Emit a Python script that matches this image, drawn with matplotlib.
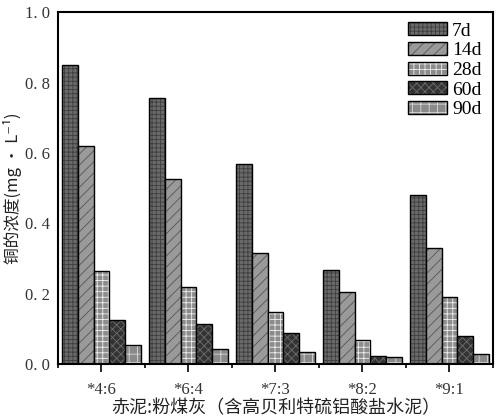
import matplotlib
matplotlib.use("Agg")
import matplotlib.pyplot as plt
import numpy as np

# ---- data
groups = ["*4:6", "*6:4", "*7:3", "*8:2", "*9:1"]
ages = ["7d", "14d", "28d", "60d", "90d"]
d7 = [0.849, 0.756, 0.569, 0.268, 0.480]
d14 = [0.619, 0.526, 0.317, 0.205, 0.330]
d28 = [0.265, 0.220, 0.147, 0.068, 0.190]
d60 = [0.125, 0.113, 0.088, 0.024, 0.080]
d90 = [0.053, 0.042, 0.035, 0.019, 0.030]
series = [d7, d14, d28, d60, d90]

# ---- styles
colors = ["#6a6a6a", "#9a9a9a", "#8c8c8c", "#333333", "#8a8a8a"]
hatches = ["++++", "///", "+++", "xxxx", "++"]
hatch_cols = ["#3e3e3e", "#555555", "#f0f0f0", "#6e6e6e", "#d8d8d8"]

plt.rcParams["font.family"] = ["Liberation Serif", "Noto Sans CJK SC", "DejaVu Sans"]
plt.rcParams["hatch.linewidth"] = 0.6

fig = plt.figure(figsize=(4.99, 4.19), dpi=100)
ax = fig.add_axes([0.116, 0.131, 0.872, 0.840])

x = np.arange(len(groups))
w = 0.18
for i, vals in enumerate(series):
    pos = x + (i - 2) * w
    bars = ax.bar(pos, vals, w, color=colors[i], edgecolor="black", linewidth=1.0,
                  label=ages[i], zorder=2)
    for b in bars:
        b.set_hatch(hatches[i])
        b._hatch_color = matplotlib.colors.to_rgba(hatch_cols[i])

ax.set_xlim(-0.5, 4.5)
ax.set_ylim(0, 1.0)
ax.set_yticks([0.0, 0.2, 0.4, 0.6, 0.8, 1.0])
ax.set_yticklabels(["0. 0", "0. 2", "0. 4", "0. 6", "0. 8", "1. 0"], color="#333333")
ax.set_xticks(x)
ax.set_xticklabels(groups, color="#333333")
ax.set_xticks(np.arange(-0.5, 5.0, 1.0), minor=True)
ax.tick_params(axis="x", which="major", direction="out", length=6, width=1.2, labelsize=12, pad=7)
ax.tick_params(axis="x", which="minor", direction="out", length=3, width=1.2)
ax.tick_params(axis="y", length=0, labelsize=12, pad=6)
for s in ax.spines.values():
    s.set_linewidth(1.5)

ax.set_xlabel("赤泥:粉煤灰（含高贝利特硫铝酸盐水泥）", fontsize=13,
              family=["Noto Sans CJK SC", "DejaVu Sans"], color="#222222", labelpad=1)
ax.set_ylabel("铜的浓度(mg • L⁻¹)", fontsize=12,
              family=["Noto Sans CJK SC", "DejaVu Sans"], color="#222222", labelpad=2)

leg = ax.legend(loc="upper right", fontsize=14, frameon=True, fancybox=False,
                edgecolor="none", handlelength=2.0, handleheight=0.65,
                handletextpad=0.25, labelspacing=0.12, borderpad=0.2,
                bbox_to_anchor=(1.005, 1.01))

fig.savefig("out.png", dpi=100)
